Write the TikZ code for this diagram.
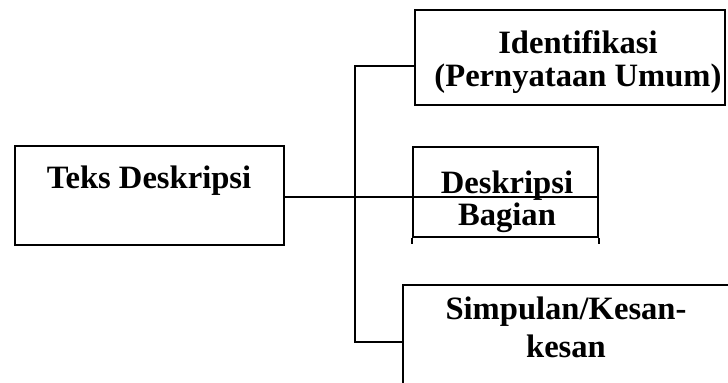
\documentclass[tikz,border=0pt]{standalone}
\usepackage{fontspec}
\setmainfont{Liberation Serif}
\usepackage{tikz}
\usetikzlibrary{positioning,calc}

\tikzset{
    box/.style={draw, line width=1pt, inner sep=0pt},
    txt/.style={font=\fontsize{16.3}{16.5}\selectfont\bfseries, align=center, inner sep=0pt},
    link/.style={line width=1pt}
}

\begin{document}
\begin{tikzpicture}[x=0.5pt, y=-0.5pt]
    \path[use as bounding box, clip] (0,0) rectangle (728,383);

    % Boxes
    \node[box, minimum width=134.5pt, minimum height=49.5pt] (teks) at (149.5,195.5) {};
    \node[box, minimum width=155pt, minimum height=47.5pt] (ident) at (570,57.5) {};
    \node[box, minimum width=92.5pt, minimum height=45pt] (desk) at (505.5,192) {};
    \node[box, minimum width=178.5pt, minimum height=67.5pt] (simp) at (581.5,352.5) {};
    \draw[link] (desk.south west) -- ++(0,6);
    \draw[link] (desk.south east) -- ++(0,6);

    % Texts
    \node[txt] (teksT) at (149,181) {Teks Deskripsi};
    \node[txt] (identT) at (578,62) {Identifikasi\\(Pernyataan Umum)};
    \node[txt, font=\fontsize{16.3}{16}\selectfont\bfseries] (deskT) at (507,202) {Deskripsi\\Bagian};
    \node[txt, font=\fontsize{16.3}{19}\selectfont\bfseries] (simpT) at (566,327) {Simpulan/Kesan-\\kesan};

    % Connectors
    \coordinate (top) at (355,66);
    \coordinate (bot) at (355,342);
    \draw[link] (teks.east |- 0,197) -- (desk.east |- 0,197);
    \draw[link] (ident.west |- top) -- (top) -- (bot) -- (bot -| simp.west);
\end{tikzpicture}
\end{document}
